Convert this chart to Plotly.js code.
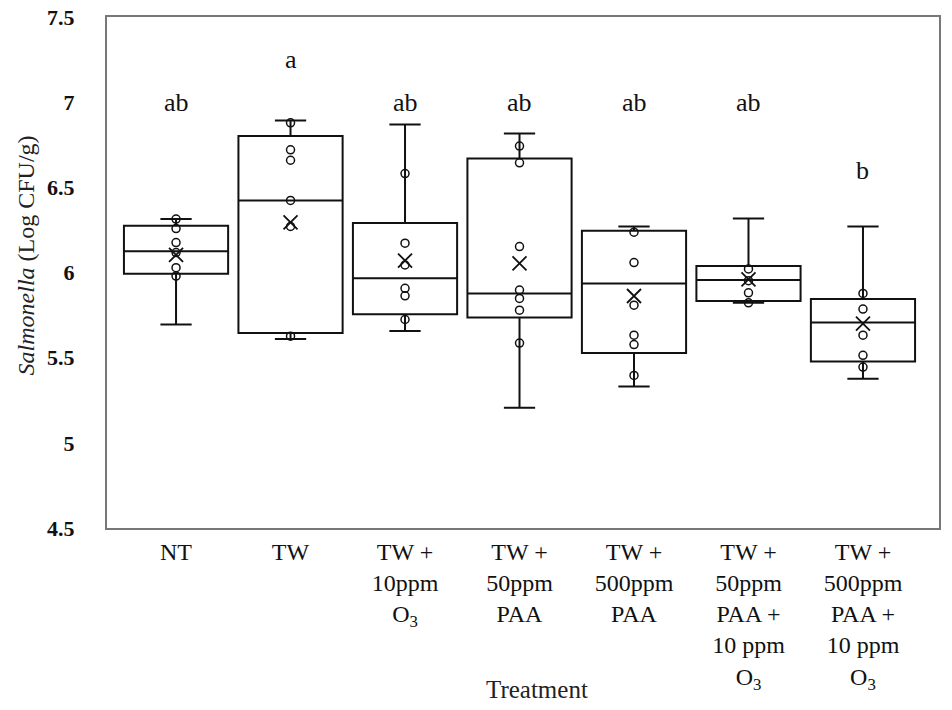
<!DOCTYPE html>
<html>
<head>
<meta charset="utf-8">
<script src="https://cdn.plot.ly/plotly-3.0.1.min.js"></script>
<style>html,body{margin:0;padding:0;background:#fff;}</style>
</head>
<body>
<div id="chart" style="width:952px;height:710px;"></div>
<script>
// ---- data ----
const categories = ['NT', 'TW', 'TW + 10ppm O3', 'TW + 50ppm PAA', 'TW + 500ppm PAA',
                    'TW + 50ppm PAA + 10 ppm O3', 'TW + 500ppm PAA + 10 ppm O3'];
const tickLabels = ['NT', 'TW', 'TW +<br>10ppm<br>O<sub>3</sub>', 'TW +<br>50ppm<br>PAA',
                    'TW +<br>500ppm<br>PAA', 'TW +<br>50ppm<br>PAA +<br>10 ppm<br>O<sub>3</sub>',
                    'TW +<br>500ppm<br>PAA +<br>10 ppm<br>O<sub>3</sub>'];
const lowerWhisker = [5.695, 5.610, 5.657, 5.206, 5.331, 5.822, 5.376];
const q1           = [5.993, 5.645, 5.755, 5.736, 5.527, 5.832, 5.477];
const median       = [6.125, 6.423, 5.966, 5.877, 5.936, 5.956, 5.706];
const q3           = [6.274, 6.801, 6.290, 6.669, 6.245, 6.038, 5.844];
const upperWhisker = [6.314, 6.893, 6.869, 6.816, 6.270, 6.317, 6.270];
const means        = [6.103, 6.294, 6.070, 6.054, 5.862, 5.960, 5.700];
const ptsNT     = [6.314, 6.258, 6.176, 6.117, 6.028, 5.979];
const ptsTW     = [6.879, 6.720, 6.659, 6.423, 6.270, 5.626];
const ptsO3     = [6.581, 6.172, 6.044, 5.907, 5.863, 5.724];
const pts50PAA  = [6.742, 6.644, 6.152, 5.897, 5.848, 5.779, 5.586];
const pts500PAA = [6.237, 6.058, 5.808, 5.632, 5.577, 5.396];
const pts50PAAO3  = [6.021, 5.952, 5.881, 5.822];
const pts500PAAO3 = [5.877, 5.785, 5.632, 5.514, 5.445];
const groupLetters = ['ab', 'a', 'ab', 'ab', 'ab', 'ab', 'b'];
const letterY      = [7.0, 7.25, 7.0, 7.0, 7.0, 7.0, 6.60];
const yTicks = [4.5, 5, 5.5, 6, 6.5, 7, 7.5];
const yTickText = ['4.5', '5', '5.5', '6', '6.5', '7', '7.5'];

const allPts = [ptsNT, ptsTW, ptsO3, pts50PAA, pts500PAA, pts50PAAO3, pts500PAAO3];
const px = [], py = [];
allPts.forEach((arr, i) => arr.forEach(v => { px.push(categories[i]); py.push(v); }));

const serif = '"Liberation Serif", "Times New Roman", serif';
const ink = '#111';

const traces = [
  {
    type: 'box', x: categories, q1: q1, median: median, q3: q3,
    lowerfence: lowerWhisker, upperfence: upperWhisker,
    width: 0.91, whiskerwidth: 0.3, boxpoints: false,
    line: {color: ink, width: 2}, fillcolor: 'rgba(0,0,0,0)', showlegend: false
  },
  {
    type: 'scatter', mode: 'markers', x: px, y: py, showlegend: false, cliponaxis: false,
    marker: {symbol: 'circle-open', size: 8, color: ink, line: {width: 1.5, color: ink}}
  },
  {
    type: 'scatter', mode: 'markers', x: categories, y: means, showlegend: false, cliponaxis: false,
    marker: {symbol: 'x-thin-open', size: 14, color: ink, line: {width: 1.8, color: ink}}
  }
];

const annotations = groupLetters.map((t, i) => ({
  x: categories[i], y: letterY[i], xref: 'x', yref: 'y', text: t, showarrow: false,
  xanchor: 'center', yanchor: 'middle',
  font: {family: serif, size: 26, color: ink}
}));
annotations.push({
  xref: 'paper', yref: 'paper', x: -0.097, y: 0.534, textangle: -90, showarrow: false,
  xanchor: 'center', yanchor: 'middle',
  text: '<i>Salmonella</i> (Log CFU/g)', font: {family: serif, size: 24, color: '#222'}
});
annotations.push({
  xref: 'paper', yref: 'paper', x: 0.517, y: -0.317, showarrow: false,
  xanchor: 'center', yanchor: 'middle',
  text: 'Treatment', font: {family: serif, size: 25, color: '#222'}
});

const layout = {
  width: 952, height: 710,
  margin: {l: 107, r: 13, t: 17, b: 182},
  paper_bgcolor: '#fff', plot_bgcolor: '#fff',
  showlegend: false,
  xaxis: {
    type: 'category', categoryorder: 'array', categoryarray: categories,
    range: [-0.603, 6.664], tickvals: categories, ticktext: tickLabels,
    tickfont: {family: serif, size: 24, color: ink},
    showline: true, mirror: true, linecolor: '#777', linewidth: 2,
    showgrid: false, zeroline: false, ticks: '', ticklabelstandoff: 1, tickangle: 0
  },
  yaxis: {
    range: [4.5, 7.5], tickvals: yTicks, ticktext: yTickText.map(t => '<b>' + t + '</b>'),
    tickfont: {family: serif, size: 22, color: ink},
    showline: true, mirror: true, linecolor: '#777', linewidth: 2,
    showgrid: false, zeroline: false, ticks: '', ticklabelstandoff: 26
  },
  annotations: annotations
};

Plotly.newPlot('chart', traces, layout, {displayModeBar: false, staticPlot: true});
</script>
</body>
</html>
